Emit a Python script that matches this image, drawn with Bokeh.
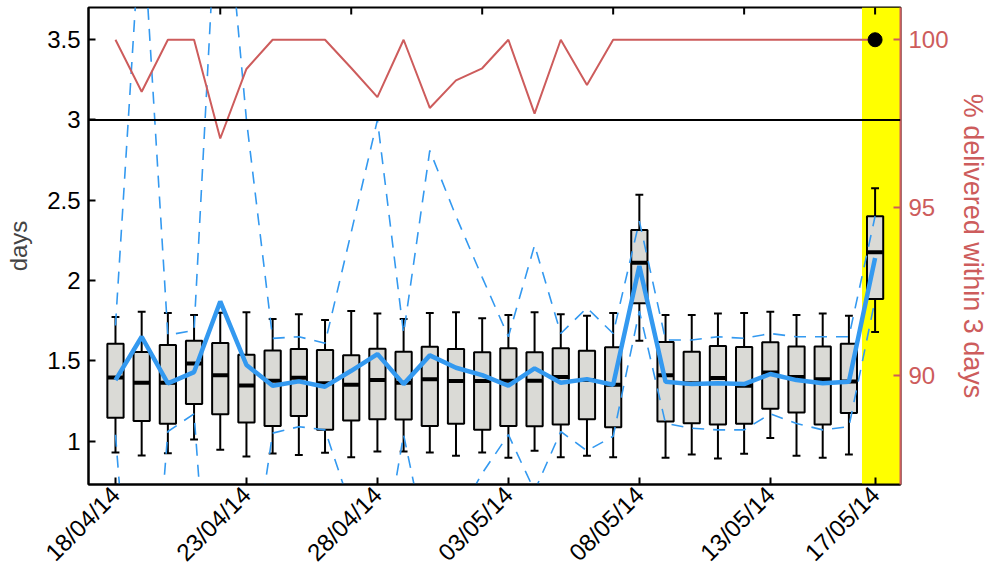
# delivery_plot.py
#
# Daily delivery times (box plots, mean and spread) together with the
# share of items delivered within 3 days, last day highlighted.

# ========
# SETTINGS
# ========

# Libraries
import numpy as np
from bokeh import plotting
from bokeh import models
from bokeh.embed import file_html
from bokeh.resources import INLINE

# Colours
red = '#CD5C5C'
blue = '#3399F0'
boxgrey = '#DADAD6'
font = 'Liberation Sans'

# ====
# DATA
# ====

# Axis ticks (day index, 0 = 18/04/14)
tick_days = [0, 5, 10, 15, 20, 25, 29]
tick_labels = ['18/04/14', '23/04/14', '28/04/14', '03/05/14', '08/05/14', '13/05/14', '17/05/14']
top_tick_days = [4, 9, 14, 19, 24, 29]
days_ticks = [1, 1.5, 2, 2.5, 3, 3.5]
pct_ticks = [90, 95, 100]

# Box plot statistics (days)
whisker_low = [0.93, 0.91, 0.925, 1.01, 0.946, 0.904, 0.923, 0.913, 0.927, 0.90,
	0.935, 0.935, 0.929, 0.909, 0.929, 0.896, 0.94, 0.90, 0.909, 0.90,
	1.625, 0.896, 0.917, 0.892, 0.921, 1.019, 0.909, 0.896, 0.917, 1.68]
quart_low = [1.145, 1.125, 1.108, 1.231, 1.168, 1.116, 1.095, 1.156, 1.071, 1.129,
	1.137, 1.135, 1.094, 1.108, 1.071, 1.095, 1.092, 1.104, 1.137, 1.087,
	1.858, 1.122, 1.112, 1.104, 1.108, 1.202, 1.179, 1.104, 1.175, 1.885]
median = [1.397, 1.364, 1.364, 1.484, 1.411, 1.347, 1.376, 1.395, 1.36, 1.351,
	1.38, 1.364, 1.386, 1.374, 1.374, 1.376, 1.376, 1.40, 1.38, 1.351,
	2.11, 1.41, 1.36, 1.393, 1.345, 1.428, 1.40, 1.385, 1.372, 2.176]
quart_high = [1.607, 1.555, 1.598, 1.625, 1.611, 1.538, 1.565, 1.574, 1.567, 1.534,
	1.576, 1.557, 1.588, 1.574, 1.553, 1.578, 1.553, 1.578, 1.563, 1.584,
	2.315, 1.617, 1.557, 1.592, 1.586, 1.615, 1.59, 1.59, 1.607, 2.40]
whisker_high = [1.773, 1.806, 1.798, 1.786, 1.80, 1.802, 1.76, 1.79, 1.754, 1.81,
	1.794, 1.76, 1.798, 1.802, 1.765, 1.786, 1.802, 1.79, 1.781, 1.798,
	2.534, 1.786, 1.786, 1.794, 1.798, 1.806, 1.786, 1.794, 1.781, 2.575]

# Mean and spread band (days)
mean = [1.38, 1.65, 1.36, 1.43, 1.87, 1.474, 1.345, 1.372, 1.339, 1.438,
	1.542, 1.355, 1.534, 1.457, 1.411, 1.345, 1.453, 1.364, 1.386, 1.351,
	2.09, 1.37, 1.355, 1.36, 1.355, 1.418, 1.38, 1.36, 1.37, 2.14]
band_high = [1.72, 4.34, 1.66, 1.69, 4.80, 3.00, 1.64, 1.65, 1.61, 2.30,
	3.00, 1.67, 2.81, 2.40, 2.02, 1.65, 2.22, 1.67, 1.83, 1.67,
	2.37, 1.63, 1.63, 1.65, 1.64, 1.67, 1.65, 1.65, 1.65, 2.40]
band_low = [1.04, -1.04, 1.06, 1.17, -1.06, -0.05, 1.05, 1.09, 1.07, 0.58,
	0.08, 1.04, 0.26, 0.51, 0.80, 1.04, 0.69, 1.06, 0.94, 1.03,
	1.81, 1.11, 1.08, 1.07, 1.07, 1.17, 1.11, 1.07, 1.09, 1.88]

# Percentage delivered within 3 days
pct_within = [100, 98.45, 100, 100, 97.06, 99.13, 100, 100, 100, 99.16,
	98.29, 100, 97.97, 98.79, 99.15, 100, 97.80, 100, 98.65, 100,
	100, 100, 100, 100, 100, 100, 100, 100, 100, 100]

# Threshold and highlighted day
threshold = 3
highlight_day = 29

# ====
# MAIN
# ====

def main():
	'''main'''

	# Day index
	x = np.arange(len(median))

	# Ranges
	xr = models.Range1d(-1.03, 29.97)
	yr = models.Range1d(0.73, 3.70)

	# Create figure
	p = plotting.figure(
		width=990, height=578,
		x_range=xr, y_range=yr,
		output_backend='svg',
		toolbar_location=None,
		min_border_left=88, min_border_right=90,
		min_border_top=7, min_border_bottom=92,
		background_fill_color='white',
		)
	p.extra_y_ranges = {'pct': models.Range1d(86.76, 100.96)}

	# Highlight last day
	p.add_layout(models.BoxAnnotation(left=highlight_day - 0.5, fill_color='yellow',
		fill_alpha=1, line_color=None, level='underlay'))

	# Box plots
	p.segment(x, whisker_low, x, whisker_high, line_color='black', line_width=2)
	p.segment(x - 0.15, whisker_high, x + 0.15, whisker_high, line_color='black', line_width=2)
	p.segment(x - 0.15, whisker_low, x + 0.15, whisker_low, line_color='black', line_width=2)
	p.vbar(x=x, width=0.62, bottom=quart_low, top=quart_high,
		fill_color=boxgrey, line_color='black', line_width=2)
	p.segment(x - 0.3, median, x + 0.3, median, line_color='black', line_width=4)

	# Threshold line
	p.add_layout(models.Span(location=threshold, dimension='width',
		line_color='black', line_width=2))

	# Spread band and mean
	p.line(x, band_high, line_color=blue, line_width=1.6, line_dash='12 9')
	p.line(x, band_low, line_color=blue, line_width=1.6, line_dash='12 9')
	p.line(x, mean, line_color=blue, line_width=4.5)

	# Percentage line
	p.line(x, pct_within, line_color=red, line_width=2, y_range_name='pct')
	p.scatter([highlight_day], [pct_within[highlight_day]], size=14, color='black',
		y_range_name='pct')

	# Top ticks (inward marks on the upper frame edge)
	p.scatter(top_tick_days, [yr.end] * len(top_tick_days), marker='dash', angle=np.pi / 2,
		size=14, line_color='black', line_width=2)

	# Bottom axis
	xaxis = p.below[0]
	xaxis.ticker = models.FixedTicker(ticks=tick_days)
	xaxis.major_label_overrides = dict(zip(tick_days, tick_labels))
	xaxis.major_label_orientation = np.pi / 4

	# Left axis
	yaxis = p.left[0]
	yaxis.ticker = models.FixedTicker(ticks=days_ticks)
	yaxis.major_label_overrides = {t: ('%g' % t) for t in days_ticks}
	yaxis.axis_label = 'days'
	yaxis.axis_label_standoff = 12
	yaxis.axis_label_text_font_size = '24px'

	# Right axis
	right = models.LinearAxis(y_range_name='pct', ticker=models.FixedTicker(ticks=pct_ticks),
		axis_label='% delivered within 3 days')
	right.axis_line_color = red
	right.major_tick_line_color = red
	right.axis_label_text_color = red
	right.axis_label_text_font_size = '27px'
	right.axis_label_standoff = 6
	p.add_layout(right, 'right')

	# Tidy
	for ax in [xaxis, yaxis, right]:
		ax.major_tick_in = 7
		ax.major_tick_out = 0
		ax.major_tick_line_width = 2
		ax.minor_tick_line_color = None
		ax.axis_line_width = 2
		ax.major_label_text_font = font
		ax.major_label_text_font_size = '24px'
		ax.major_label_text_color = 'black'
		ax.major_label_standoff = 8
		ax.axis_label_text_font = font
		ax.axis_label_text_font_style = 'normal'
	right.major_label_text_color = red
	xaxis.major_label_standoff = 6
	p.grid.visible = False
	p.outline_line_color = 'black'
	p.outline_line_width = 2

	# Save figure
	open('out.html', 'w').write(file_html(p, INLINE))

# ====
# CALL
# ====

main()
